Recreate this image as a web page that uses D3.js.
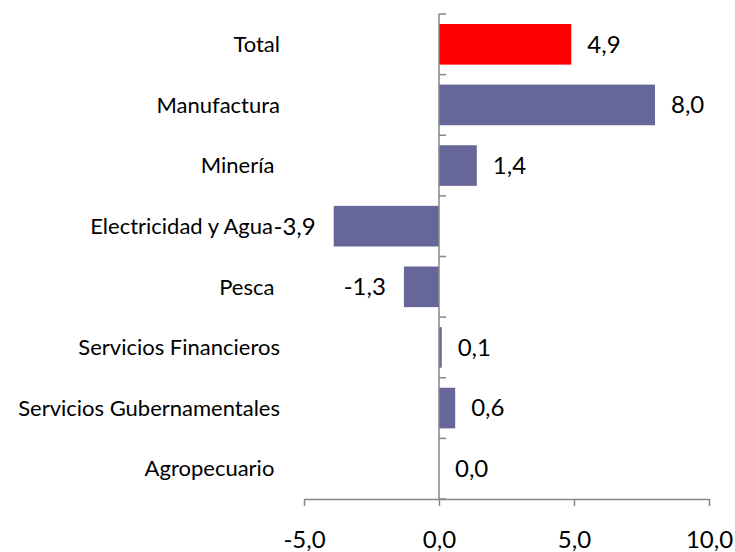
<!DOCTYPE html>
<html>
<head>
<meta charset="utf-8">
<script src="https://cdn.jsdelivr.net/npm/d3@7"></script>
<style>
  body { margin: 0; background: #fff; }
  text { font-family: Lato, "Open Sans", sans-serif; font-weight: 400; white-space: pre; }
</style>
</head>
<body>
<div id="chart"></div>
<script>
// data
const categories = ["Total", "Manufactura", "Minería ", "Electricidad y Agua", "Pesca ",
  "Servicios Financieros", "Servicios Gubernamentales", "Agropecuario "];
const values = [4.9, 8.0, 1.4, -3.9, -1.3, 0.1, 0.6, 0.0];
const xTicks = [-5, 0, 5, 10];

const WIDTH = 735, HEIGHT = 552;
const PLOT_TOP = 14, PLOT_BOTTOM = 499;
const X_MIN_PX = 304, X_MAX_PX = 709;
const BAR_COLOR = "#666699", TOTAL_COLOR = "#ff0000", AXIS_COLOR = "#868686";

const fmt = v => d3.format(".1f")(v).replace(".", ",").replace("−", "-");

const svg = d3.select("#chart").append("svg")
  .attr("width", WIDTH)
  .attr("height", HEIGHT);

const x = d3.scaleLinear().domain([-5, 10]).range([X_MIN_PX, X_MAX_PX]);
const y = d3.scaleBand().domain(categories).range([PLOT_TOP, PLOT_BOTTOM]).paddingInner(0.33).paddingOuter(0.165);
const yEdge = d3.scaleBand().domain(categories).range([PLOT_TOP, PLOT_BOTTOM]);

const data = categories.map((c, i) => ({ cat: c, val: values[i], total: i === 0 }));

// bars
svg.append("g").selectAll("rect")
  .data(data)
  .join("rect")
  .attr("x", d => x(Math.min(0, d.val)))
  .attr("y", d => y(d.cat))
  .attr("width", d => Math.abs(x(d.val) - x(0)))
  .attr("height", y.bandwidth())
  .attr("fill", d => d.total ? TOTAL_COLOR : BAR_COLOR);

// x axis
const xAxis = svg.append("g")
  .attr("transform", `translate(0,${PLOT_BOTTOM})`)
  .call(d3.axisBottom(x).tickValues(xTicks).tickSize(7).tickSizeOuter(0).tickFormat(fmt));
xAxis.select(".domain").attr("stroke", AXIS_COLOR).attr("stroke-width", 1.5);
xAxis.selectAll(".tick line").attr("stroke", AXIS_COLOR).attr("stroke-width", 1.5);
xAxis.selectAll(".tick text")
  .attr("y", 41)
  .attr("dy", "0.35em")
  .attr("fill", "#000")
  .style("font-size", "24px");

// vertical axis at zero with category separators
const edges = categories.map(c => yEdge(c)).concat([PLOT_BOTTOM]);
svg.append("line")
  .attr("x1", x(0)).attr("x2", x(0))
  .attr("y1", PLOT_TOP).attr("y2", PLOT_BOTTOM)
  .attr("stroke", AXIS_COLOR).attr("stroke-width", 1.5);
svg.append("g").selectAll("line")
  .data(edges)
  .join("line")
  .attr("x1", x(0)).attr("x2", x(0) + 7)
  .attr("y1", d => d).attr("y2", d => d)
  .attr("stroke", AXIS_COLOR).attr("stroke-width", 1.5);

// category labels (Electricidad y Agua sits a bit left, next to its value)
svg.append("g").selectAll("text")
  .data(data)
  .join("text")
  .attr("x", d => d.val < -3 ? 273 : 280)
  .attr("y", d => yEdge(d.cat) + yEdge.bandwidth() / 2)
  .attr("dy", "0.35em")
  .attr("text-anchor", "end")
  .style("font-size", "22px")
  .text(d => d.cat);

// value labels
svg.append("g").selectAll("text")
  .data(data)
  .join("text")
  .attr("x", d => d.val < 0 ? x(d.val) - 18 : x(d.val) + 16)
  .attr("y", d => yEdge(d.cat) + yEdge.bandwidth() / 2)
  .attr("dy", "0.35em")
  .attr("text-anchor", d => d.val < 0 ? "end" : "start")
  .style("font-size", "24px")
  .text(d => fmt(d.val));
</script>
</body>
</html>
